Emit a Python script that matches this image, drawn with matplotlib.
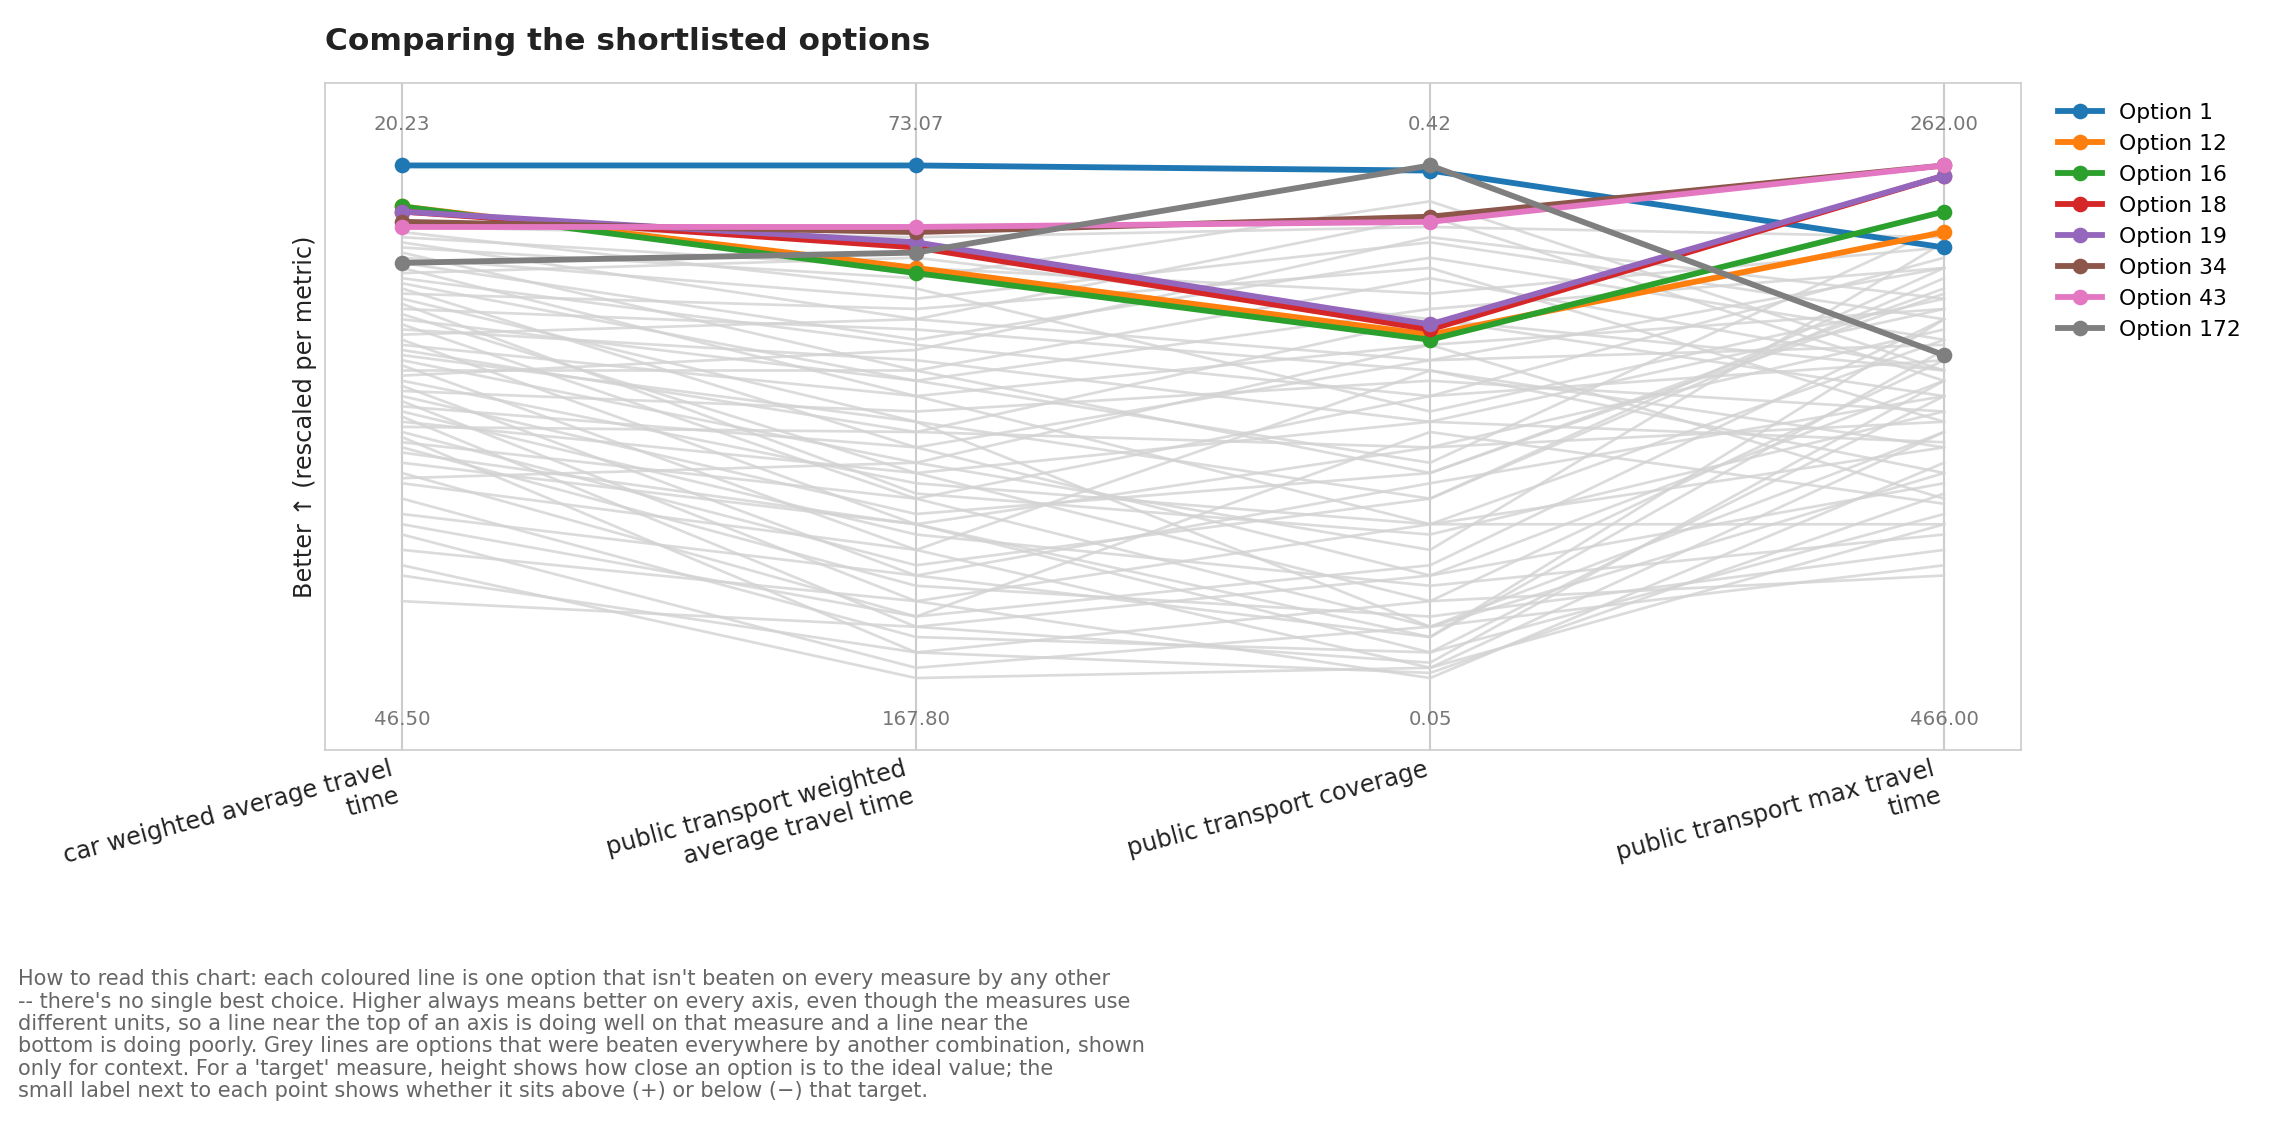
import matplotlib.pyplot as plt
import numpy as np

metrics = ["car weighted average travel\ntime", "public transport weighted\naverage travel time",
           "public transport coverage", "public transport max travel\ntime"]
top_labels = ["20.23", "73.07", "0.42", "262.00"]
bottom_labels = ["46.50", "167.80", "0.05", "466.00"]

# highlighted (non-dominated) options, rescaled 0..1 (1 = better)
options = ["Option 1", "Option 12", "Option 16", "Option 18", "Option 19", "Option 34", "Option 43", "Option 172"]
option_values = [
    [1.00, 1.00, 0.99, 0.84],
    [0.92, 0.80, 0.67, 0.87],
    [0.92, 0.79, 0.66, 0.91],
    [0.91, 0.84, 0.68, 0.98],
    [0.91, 0.85, 0.69, 0.98],
    [0.89, 0.87, 0.90, 1.00],
    [0.88, 0.88, 0.89, 1.00],
    [0.81, 0.83, 1.00, 0.63],
]
colors = ["#1f77b4", "#ff7f0e", "#2ca02c", "#d62728", "#9467bd", "#8c564b", "#e377c2", "#7f7f7f"]

# dominated options (context), rescaled
grey_values = [
    [0.88, 0.86, 0.88, 0.86], [0.86, 0.80, 0.75, 0.84], [0.85, 0.70, 0.62, 0.80],
    [0.84, 0.78, 0.93, 0.60], [0.83, 0.60, 0.40, 0.75], [0.82, 0.74, 0.85, 0.70],
    [0.80, 0.55, 0.30, 0.66], [0.79, 0.82, 0.70, 0.55], [0.78, 0.65, 0.55, 0.82],
    [0.76, 0.45, 0.20, 0.58], [0.75, 0.72, 0.80, 0.50], [0.74, 0.50, 0.35, 0.78],
    [0.72, 0.68, 0.60, 0.45], [0.71, 0.40, 0.15, 0.62], [0.70, 0.58, 0.72, 0.80],
    [0.69, 0.35, 0.10, 0.40], [0.68, 0.62, 0.50, 0.72], [0.66, 0.30, 0.05, 0.55],
    [0.65, 0.55, 0.65, 0.35], [0.64, 0.48, 0.45, 0.68], [0.62, 0.42, 0.25, 0.85],
    [0.61, 0.25, 0.02, 0.48], [0.60, 0.60, 0.78, 0.60], [0.58, 0.38, 0.30, 0.30],
    [0.57, 0.20, 0.08, 0.70], [0.56, 0.52, 0.58, 0.52], [0.55, 0.32, 0.40, 0.76],
    [0.54, 0.15, 0.00, 0.42], [0.53, 0.45, 0.62, 0.65], [0.52, 0.28, 0.18, 0.28],
    [0.51, 0.10, 0.03, 0.58], [0.50, 0.40, 0.50, 0.46], [0.48, 0.22, 0.35, 0.80],
    [0.47, 0.05, 0.01, 0.36], [0.46, 0.35, 0.55, 0.62], [0.45, 0.18, 0.12, 0.25],
    [0.42, 0.30, 0.45, 0.50], [0.40, 0.12, 0.22, 0.70], [0.38, 0.25, 0.60, 0.40],
    [0.35, 0.08, 0.05, 0.32], [0.32, 0.20, 0.38, 0.55], [0.28, 0.02, 0.10, 0.22],
    [0.25, 0.15, 0.30, 0.45], [0.22, 0.00, 0.02, 0.30], [0.15, 0.10, 0.20, 0.38],
    [0.87, 0.76, 0.52, 0.74], [0.81, 0.66, 0.82, 0.66], [0.77, 0.58, 0.42, 0.88],
    [0.73, 0.36, 0.28, 0.52], [0.67, 0.70, 0.90, 0.58], [0.63, 0.50, 0.10, 0.48],
    [0.59, 0.64, 0.86, 0.74], [0.49, 0.48, 0.70, 0.60], [0.44, 0.30, 0.08, 0.64],
    [0.39, 0.42, 0.65, 0.72], [0.30, 0.12, 0.48, 0.34], [0.20, 0.05, 0.15, 0.20],
]

x = np.arange(len(metrics))
fig = plt.figure(figsize=(15.26, 7.62), dpi=150)
ax = fig.add_axes([0.142, 0.344, 0.741, 0.583])

for row in grey_values:
    ax.plot(x, row, color="#d3d3d3", lw=1.3, alpha=0.8, zorder=1)
for name, row, c in zip(options, option_values, colors):
    ax.plot(x, row, color=c, lw=2.8, marker="o", ms=6.5, label=name, zorder=3)

for xi in x:
    ax.axvline(xi, color="#cccccc", lw=1, zorder=0)
    ax.text(xi, 1.08, top_labels[xi], ha="center", va="center", fontsize=9.5, color="#777777")
    ax.text(xi, -0.08, bottom_labels[xi], ha="center", va="center", fontsize=9.5, color="#777777")

ax.set_xlim(-0.15, 3.15)
ax.set_ylim(-0.14, 1.16)
ax.set_yticks([])
ax.set_xticks(x)
ax.set_xticklabels(metrics, rotation=15, ha="right", fontsize=11.5, color="#222222")
ax.tick_params(axis="x", length=0)
for s in ax.spines.values():
    s.set_color("#cccccc")
ax.set_ylabel("Better \u2191 (rescaled per metric)", fontsize=11.5, color="#222222")
ax.set_title("Comparing the shortlisted options", loc="left", fontsize=15, fontweight="bold",
             color="#222222", pad=16)
ax.legend(loc="upper left", bbox_to_anchor=(1.01, 1.0), frameon=False, fontsize=10.5)

note = ("How to read this chart: each coloured line is one option that isn't beaten on every measure by any other\n"
        "-- there's no single best choice. Higher always means better on every axis, even though the measures use\n"
        "different units, so a line near the top of an axis is doing well on that measure and a line near the\n"
        "bottom is doing poorly. Grey lines are options that were beaten everywhere by another combination, shown\n"
        "only for context. For a 'target' measure, height shows how close an option is to the ideal value; the\n"
        "small label next to each point shows whether it sits above (+) or below (\u2212) that target.")
fig.text(0.008, 0.152, note, ha="left", va="top", fontsize=10, color="#666666", linespacing=1.15)

fig.savefig("out.png", dpi=150)
